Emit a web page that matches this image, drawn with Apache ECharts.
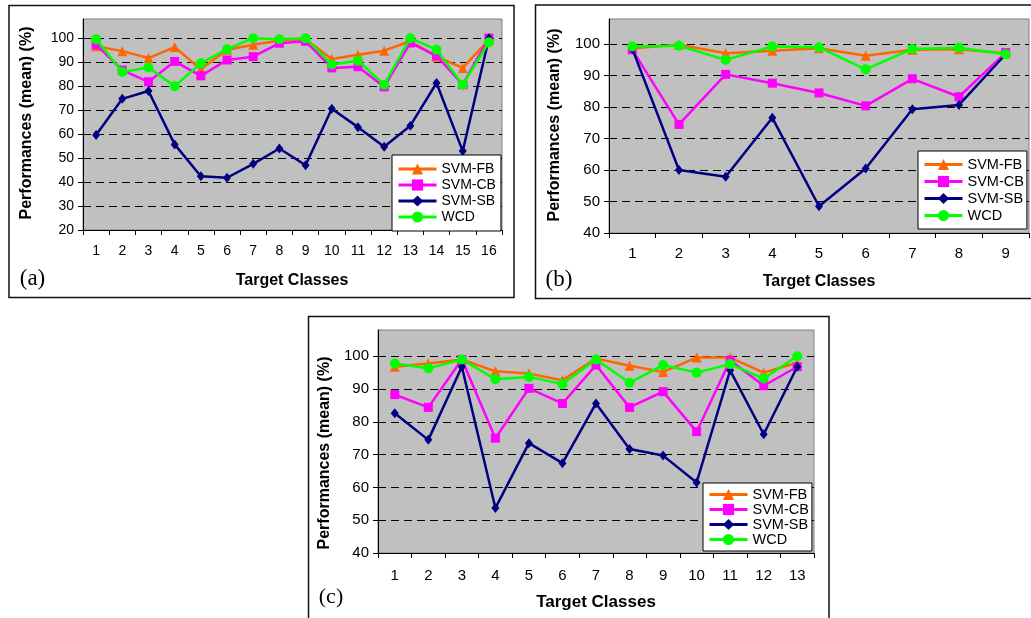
<!DOCTYPE html>
<html><head><meta charset="utf-8">
<script src="https://cdn.jsdelivr.net/npm/echarts@6/dist/echarts.min.js"></script>
<style>html,body{margin:0;padding:0;background:#fff}#c{width:1031px;height:618px}</style>
</head><body><div id="c"></div>
<script>
// ---- data ----
const seriesNames = ['SVM-FB', 'SVM-CB', 'SVM-SB', 'WCD'];

const classesA = ['1','2','3','4','5','6','7','8','9','10','11','12','13','14','15','16'];
const fbA  = [96.6, 94.6, 91.7, 96.3, 87.0, 95.2, 97.3, 99.0, 99.6, 91.3, 93.1, 94.8, 98.7, 92.3, 87.6, 99.3];
const cbA  = [97.3, 86.7, 81.8, 90.3, 84.3, 90.9, 92.3, 97.9, 98.7, 87.6, 88.1, 79.7, 98.0, 92.7, 80.6, 100];
const sbA  = [59.6, 74.7, 78.0, 55.7, 42.4, 41.8, 47.6, 54.0, 47.0, 70.6, 62.9, 54.7, 63.5, 81.3, 52.9, 100];
const wcdA = [99.6, 85.9, 87.8, 80.0, 89.5, 95.4, 100, 99.6, 100, 89.0, 90.6, 80.6, 100, 95.2, 80.6, 98.3];

const classesB = ['1','2','3','4','5','6','7','8','9'];
const fbB  = [98.7, 99.8, 97.1, 97.9, 98.7, 96.3, 98.2, 98.4, 97.1];
const cbB  = [98.2, 74.5, 90.4, 87.6, 84.5, 80.4, 89.0, 83.3, 97.3];
const sbB  = [98.5, 60.0, 57.9, 76.6, 48.5, 60.5, 79.3, 80.7, 96.8];
const wcdB = [99.3, 99.5, 95.0, 99.3, 99.0, 92.0, 98.5, 98.9, 96.8];

const classesC = ['1','2','3','4','5','6','7','8','9','10','11','12','13'];
const fbC  = [96.8, 97.8, 99.0, 95.4, 94.7, 92.7, 99.3, 97.1, 95.2, 99.6, 99.6, 95.0, 98.0];
const cbC  = [88.3, 84.4, 99.0, 75.0, 90.2, 85.6, 97.3, 84.4, 89.2, 77.0, 98.8, 91.0, 96.8];
const sbC  = [82.6, 74.5, 96.8, 53.7, 73.5, 67.4, 85.6, 71.7, 69.7, 61.5, 95.7, 76.2, 96.8];
const wcdC = [97.8, 96.3, 99.0, 93.0, 93.7, 91.5, 99.0, 91.9, 97.3, 95.0, 97.6, 93.2, 100];

const yMinA = 20, yMinB = 40, yMinC = 40, yMax = 108, yStep = 10;
const xTitle = 'Target Classes';
const yTitle = 'Performances (mean) (%)';
const panelLabels = ['(a)', '(b)', '(c)'];

// ---- styling ----
const FONT = '"Liberation Sans", Arial, sans-serif';
const SERIF = '"Liberation Serif", "Times New Roman", serif';
const colors = ['#ff6600', '#ff00ff', '#000080', '#00ff00'];
const symbols = ['triangle', 'rect', 'diamond', 'circle'];
const symSizes = [10, 9, [8, 10], 10];

const panels = [
  {cats: classesA, data: [fbA, cbA, sbA, wcdA], min: yMinA, fs: 14,
   grid: {left: 83, top: 19, width: 419, height: 211},
   legend: {left: 392, top: 155, padding: [7, 5, 7, 5], itemGap: 2, lh: 14, fs: 14},
   labelMargin: 14},
  {cats: classesB, data: [fbB, cbB, sbB, wcdB], min: yMinB, fs: 15,
   grid: {left: 609, top: 19, width: 420, height: 214},
   legend: {left: 918, top: 151, padding: [6, 3, 6, 5], itemGap: 2, lh: 14, fs: 14.5},
   labelMargin: 13},
  {cats: classesC, data: [fbC, cbC, sbC, wcdC], min: yMinC, fs: 15,
   grid: {left: 378, top: 330, width: 436, height: 223},
   legend: {left: 703, top: 483, padding: [4, 3, 4, 5], itemGap: 0, lh: 14, fs: 14.5},
   labelMargin: 15}
];

const grids = [], xAxes = [], yAxes = [], series = [], legends = [];
panels.forEach((p, i) => {
  grids.push(Object.assign({show: true, backgroundColor: '#c0c0c0', borderColor: '#808080', borderWidth: 1}, p.grid));
  xAxes.push({
    type: 'category', gridIndex: i, data: p.cats, boundaryGap: true,
    axisLine: {show: true, lineStyle: {color: '#000', width: 1}},
    axisTick: {show: true, length: 5, lineStyle: {color: '#000'}},
    axisLabel: {color: '#000', fontSize: p.fs, fontFamily: FONT, margin: p.labelMargin, interval: 0},
    splitLine: {show: false}
  });
  yAxes.push({
    type: 'value', gridIndex: i, min: p.min, max: yMax, interval: yStep,
    axisLine: {show: true, lineStyle: {color: '#000', width: 1}},
    axisTick: {show: true, length: 5, lineStyle: {color: '#000'}},
    axisLabel: {color: '#000', fontSize: p.fs, fontFamily: FONT, margin: 9, showMaxLabel: false,
      formatter: v => (v % 10 === 0 ? String(v) : '')},
    splitLine: {show: true, showMaxLine: false, showMinLine: false,
      lineStyle: {color: '#000', width: 1, type: [8, 5]}}
  });
  seriesNames.forEach((name, k) => {
    series.push({
      type: 'line', name: name, xAxisIndex: i, yAxisIndex: i, data: p.data[k],
      symbol: symbols[k], symbolSize: symSizes[k], showAllSymbol: true,
      lineStyle: {color: colors[k], width: 2.5},
      itemStyle: {color: colors[k]},
      emphasis: {disabled: true}, z: 2 + k * 0.01
    });
  });
  legends.push({
    data: seriesNames, orient: 'vertical', left: p.legend.left, top: p.legend.top,
    padding: p.legend.padding, itemGap: p.legend.itemGap, itemWidth: 38, itemHeight: 14,
    backgroundColor: '#ffffff', borderColor: '#000', borderWidth: 1, borderRadius: 0,
    selectedMode: false,
    lineStyle: {width: 3},
    textStyle: {color: '#000', fontSize: p.legend.fs, fontFamily: FONT, lineHeight: p.legend.lh}
  });
});

function txt(t, x, y, font, rot) {
  return {type: 'text', x: x, y: y, rotation: rot || 0, silent: true,
    style: {text: t, x: 0, y: 0, font: font, fill: '#000', align: 'center', verticalAlign: 'middle'}};
}
const TF = 'bold 16px ' + FONT;
const TF2 = 'bold 17px ' + FONT;
const PF = '23px ' + SERIF;
const graphics = [
  {type: 'rect', shape: {x: 9, y: 5.5, width: 505, height: 292}, style: {fill: 'none', stroke: '#111', lineWidth: 1.5}, silent: true},
  {type: 'rect', shape: {x: 535.5, y: 5, width: 510, height: 293.5}, style: {fill: 'none', stroke: '#111', lineWidth: 1.5}, silent: true},
  {type: 'rect', shape: {x: 308.5, y: 316.5, width: 520.5, height: 320}, style: {fill: 'none', stroke: '#111', lineWidth: 1.5}, silent: true},
  txt(xTitle, 292, 281, TF), txt(xTitle, 819, 281.5, TF), txt(xTitle, 596, 602, TF2),
  txt(yTitle, 27, 123, TF, Math.PI / 2), txt(yTitle, 555, 125, TF, Math.PI / 2), txt(yTitle, 325, 453, TF, Math.PI / 2),
  txt(panelLabels[0], 32.5, 279, PF), txt(panelLabels[1], 559, 280, PF), txt(panelLabels[2], 331, 597, '22px ' + SERIF)
];

const chart = echarts.init(document.getElementById('c'), null, {renderer: 'canvas'});
chart.setOption({
  animation: false,
  backgroundColor: '#ffffff',
  grid: grids, xAxis: xAxes, yAxis: yAxes, series: series, legend: legends,
  graphic: graphics
});
</script>
</body></html>
